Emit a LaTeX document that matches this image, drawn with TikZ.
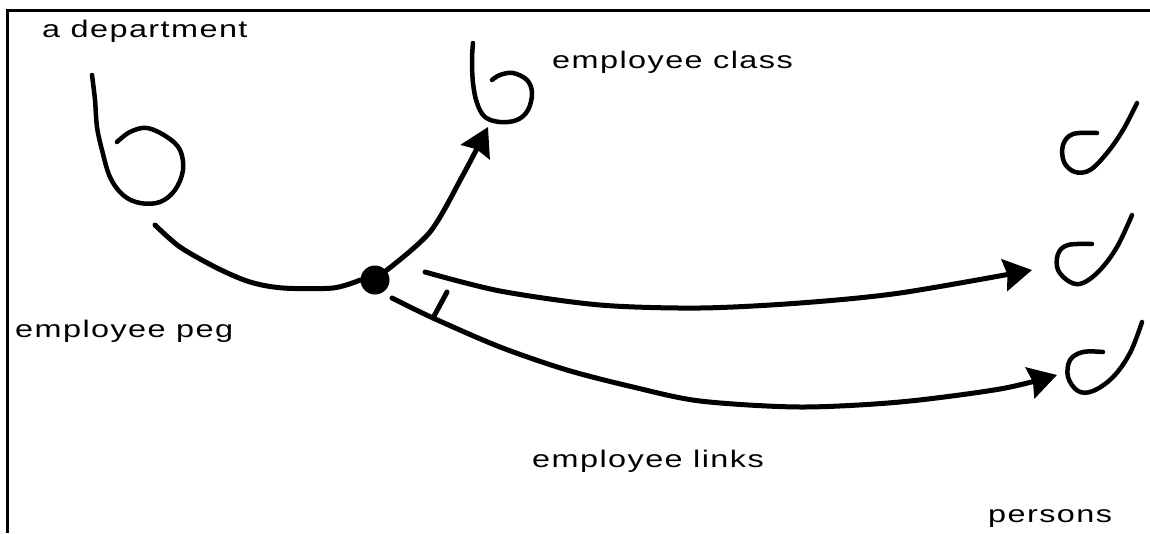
\documentclass[tikz,border=0pt]{standalone}
\usepackage{fontspec}
\setmainfont{Liberation Sans}[FakeStretch=1.35,LetterSpace=6]
\usetikzlibrary{arrows.meta}
\begin{document}
\begin{tikzpicture}[x=1pt,y=-1pt,
  hook/.style={line width=4.5pt, line cap=round, line join=round},
  ink/.style={line width=5pt, line cap=round, line join=round},
  link/.style={ink, -{Stealth[length=28pt,width=32pt,inset=3pt]}},
  lab/.style={font=\fontsize{24}{28}\selectfont, inner sep=0pt, anchor=base west}]
\useasboundingbox (0,0) rectangle (1150,533);
% frame along the top and left edges
\draw[line width=3.5pt] (7.5,533) -- (7.5,10.5) -- (1150,10.5);

% labels
\node[lab] (ldept)  at (42,37)   {a department};
\node[lab] (lclass) at (552,68)  {employee class};
\node[lab] (lpeg)   at (15,337)  {employee peg};
\node[lab] (llinks) at (532,467) {employee links};
\node[lab] (lpers)  at (988,522) {persons};

% the peg
\node[circle, fill=black, inner sep=0pt, minimum size=29pt] (peg) at (375,280) {};

% department hook
\draw[hook] plot[smooth, tension=0.6] coordinates {(92,75) (95,100) (97,127) (102,150) (110,177) (123,195) (140,203) (160,202) (175,190) (183,170) (180,150) (167,137) (147,128) (130,132) (117,142)};
% employee class hook
\draw[hook] plot[smooth, tension=0.6] coordinates {(473,43) (472,60) (473,83) (477,103) (485,117) (500,122) (517,120) (528,110) (532,93) (527,80) (513,73) (500,75) (492,80)};
% person hooks
\draw[hook] plot[smooth, tension=0.6] coordinates {(1137,103) (1123,130) (1107,153) (1090,170) (1075,172) (1064,162) (1063,145) (1073,134) (1097,133)};
\draw[hook] plot[smooth, tension=0.6] coordinates {(1132,215) (1117,247) (1100,270) (1083,283) (1070,282) (1058,270) (1058,254) (1068,245) (1092,244)};
\draw[hook] plot[smooth, tension=0.6] coordinates {(1142,322) (1130,353) (1113,377) (1093,391) (1078,391) (1068,377) (1070,360) (1083,352) (1103,352)};

% connector end points
\coordinate (dept)  at (155,225);
\coordinate (cls)   at (488,127);
\coordinate (m0)    at (425,272);
\coordinate (pmid)  at (1032,270);
\coordinate (l0)    at (392,298);
\coordinate (plow)  at (1057,375);
\coordinate (tick)  at (433,318);

% department to peg
\draw[ink] plot[smooth] coordinates {(dept) (180,247) (217,268) (250,282) (283,288) (333,288) (peg.west)};
% peg to employee class
\draw[link] plot[smooth] coordinates {(peg.40) (430,232) (463,175) (cls)};
% employee links to persons
\draw[link] plot[smooth] coordinates {(m0) (500,291) (600,305) (700,308) (800,303) (900,293) (pmid)};
\draw[link] plot[smooth] coordinates {(l0) (433,318) (500,347) (567,370) (633,387) (700,401) (800,407) (900,402) (1000,389) (plow)};
\draw[ink] (tick) -- ++(14,-26);
\end{tikzpicture}
\end{document}
